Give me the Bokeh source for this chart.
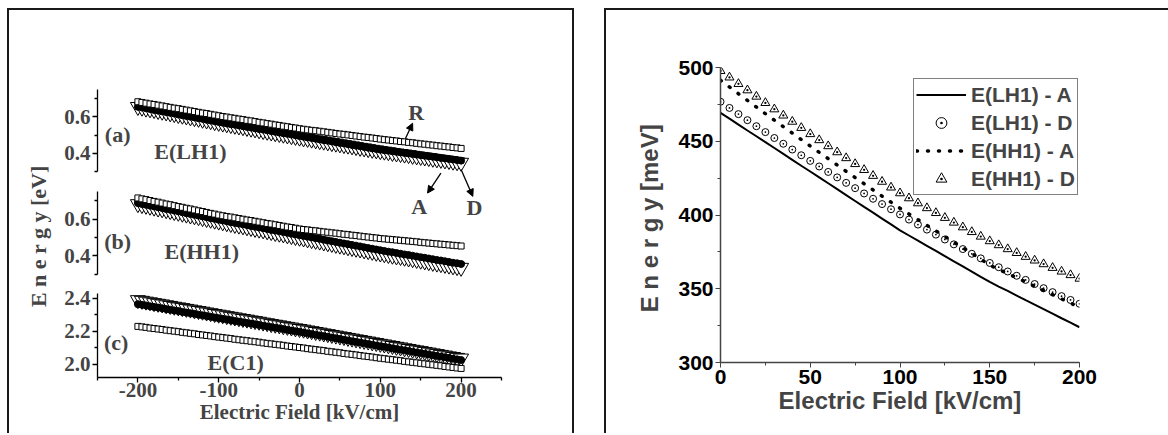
from bokeh.plotting import figure
from bokeh.models import (Range1d, LinearAxis, FixedTicker, PrintfTickFormatter, Label,
                          Arrow, NormalHead, Legend, LegendItem, SingleIntervalTicker,
                          CustomJSTickFormatter)
from bokeh.layouts import row, column
from bokeh.embed import file_html
from bokeh.resources import INLINE

# ---------------- data: left panel (eV) ----------------
FIELD = list(range(-200, 205, 5))   # kV/cm

LH1_R = [0.683, 0.679, 0.675, 0.671, 0.668, 0.664, 0.660, 0.656, 0.652, 0.648, 0.645, 0.641, 0.637, 0.633, 0.629, 0.625, 0.621, 0.618, 0.614, 0.610, 0.606,
         0.602, 0.599, 0.595, 0.592, 0.588, 0.585, 0.581, 0.578, 0.574, 0.570, 0.567, 0.563, 0.560, 0.556, 0.553, 0.549, 0.546, 0.542, 0.539, 0.535,
         0.532, 0.529, 0.526, 0.524, 0.521, 0.518, 0.515, 0.512, 0.509, 0.506, 0.504, 0.501, 0.498, 0.495, 0.492, 0.489, 0.487, 0.484, 0.481, 0.478,
         0.475, 0.473, 0.470, 0.468, 0.465, 0.463, 0.460, 0.458, 0.455, 0.452, 0.450, 0.447, 0.445, 0.442, 0.440, 0.437, 0.435, 0.432, 0.430, 0.427]
LH1_A = [0.655, 0.651, 0.647, 0.643, 0.638, 0.634, 0.630, 0.626, 0.622, 0.618, 0.613, 0.609, 0.605, 0.601, 0.597, 0.593, 0.589, 0.584, 0.580, 0.576, 0.572,
         0.568, 0.564, 0.560, 0.557, 0.553, 0.549, 0.545, 0.541, 0.537, 0.533, 0.530, 0.526, 0.522, 0.518, 0.514, 0.510, 0.507, 0.503, 0.499, 0.495,
         0.491, 0.487, 0.484, 0.480, 0.476, 0.472, 0.469, 0.465, 0.461, 0.457, 0.454, 0.450, 0.446, 0.442, 0.439, 0.435, 0.431, 0.427, 0.424, 0.420,
         0.417, 0.414, 0.411, 0.408, 0.405, 0.402, 0.399, 0.396, 0.393, 0.390, 0.387, 0.384, 0.381, 0.378, 0.375, 0.372, 0.369, 0.366, 0.363, 0.360]
LH1_D = [0.655, 0.651, 0.646, 0.642, 0.638, 0.633, 0.629, 0.625, 0.620, 0.616, 0.611, 0.607, 0.603, 0.598, 0.594, 0.590, 0.585, 0.581, 0.577, 0.572, 0.568,
         0.564, 0.560, 0.556, 0.552, 0.548, 0.544, 0.540, 0.536, 0.532, 0.527, 0.523, 0.519, 0.515, 0.511, 0.507, 0.503, 0.499, 0.495, 0.491, 0.487,
         0.483, 0.480, 0.476, 0.472, 0.468, 0.465, 0.461, 0.457, 0.454, 0.450, 0.446, 0.443, 0.439, 0.435, 0.431, 0.428, 0.424, 0.420, 0.417, 0.413,
         0.410, 0.407, 0.403, 0.400, 0.397, 0.394, 0.391, 0.387, 0.384, 0.381, 0.378, 0.375, 0.371, 0.368, 0.365, 0.362, 0.359, 0.355, 0.352, 0.349]

HH1_R = [0.716, 0.711, 0.707, 0.702, 0.697, 0.693, 0.688, 0.683, 0.679, 0.674, 0.669, 0.665, 0.660, 0.656, 0.651, 0.646, 0.642, 0.637, 0.632, 0.628, 0.623,
         0.619, 0.615, 0.612, 0.608, 0.604, 0.600, 0.596, 0.593, 0.589, 0.585, 0.581, 0.577, 0.574, 0.570, 0.566, 0.562, 0.558, 0.555, 0.551, 0.547,
         0.544, 0.542, 0.539, 0.537, 0.534, 0.531, 0.529, 0.526, 0.524, 0.521, 0.518, 0.516, 0.513, 0.511, 0.508, 0.505, 0.503, 0.500, 0.498, 0.495,
         0.493, 0.491, 0.489, 0.487, 0.485, 0.483, 0.481, 0.479, 0.477, 0.474, 0.472, 0.470, 0.468, 0.466, 0.464, 0.462, 0.460, 0.458, 0.456, 0.454]
HH1_A = [0.688, 0.683, 0.679, 0.674, 0.670, 0.665, 0.661, 0.656, 0.652, 0.647, 0.643, 0.638, 0.633, 0.629, 0.624, 0.620, 0.615, 0.611, 0.606, 0.602, 0.597,
         0.593, 0.589, 0.584, 0.580, 0.576, 0.572, 0.568, 0.563, 0.559, 0.555, 0.551, 0.547, 0.542, 0.538, 0.534, 0.530, 0.526, 0.521, 0.517, 0.513,
         0.509, 0.505, 0.501, 0.497, 0.493, 0.488, 0.484, 0.480, 0.476, 0.472, 0.468, 0.464, 0.460, 0.456, 0.452, 0.447, 0.443, 0.439, 0.435, 0.431,
         0.427, 0.423, 0.420, 0.416, 0.412, 0.408, 0.405, 0.401, 0.397, 0.393, 0.390, 0.386, 0.382, 0.378, 0.375, 0.371, 0.367, 0.363, 0.360, 0.356]
HH1_D = [0.683, 0.678, 0.674, 0.669, 0.664, 0.659, 0.655, 0.650, 0.645, 0.640, 0.636, 0.631, 0.626, 0.621, 0.617, 0.612, 0.607, 0.602, 0.598, 0.593, 0.588,
         0.584, 0.579, 0.575, 0.570, 0.566, 0.562, 0.557, 0.553, 0.548, 0.544, 0.540, 0.535, 0.531, 0.526, 0.522, 0.518, 0.513, 0.509, 0.504, 0.500,
         0.496, 0.491, 0.487, 0.483, 0.479, 0.474, 0.470, 0.466, 0.461, 0.457, 0.453, 0.448, 0.444, 0.440, 0.436, 0.431, 0.427, 0.423, 0.418, 0.414,
         0.410, 0.406, 0.402, 0.398, 0.395, 0.391, 0.387, 0.383, 0.379, 0.375, 0.371, 0.367, 0.363, 0.359, 0.356, 0.352, 0.348, 0.344, 0.340, 0.336]

C1_R = [2.230, 2.227, 2.224, 2.220, 2.217, 2.214, 2.211, 2.207, 2.204, 2.201, 2.198, 2.194, 2.191, 2.188, 2.185, 2.181, 2.178, 2.175, 2.172, 2.168, 2.165,
        2.162, 2.159, 2.156, 2.152, 2.149, 2.146, 2.143, 2.140, 2.137, 2.134, 2.130, 2.127, 2.124, 2.121, 2.118, 2.115, 2.111, 2.108, 2.105, 2.102,
        2.099, 2.095, 2.092, 2.089, 2.086, 2.083, 2.079, 2.076, 2.073, 2.070, 2.066, 2.063, 2.060, 2.057, 2.053, 2.050, 2.047, 2.044, 2.040, 2.037,
        2.034, 2.031, 2.028, 2.025, 2.022, 2.018, 2.015, 2.012, 2.009, 2.006, 2.003, 2.000, 1.997, 1.994, 1.991, 1.987, 1.984, 1.981, 1.978, 1.975]
C1_A = [2.365, 2.361, 2.357, 2.352, 2.348, 2.344, 2.340, 2.335, 2.331, 2.327, 2.323, 2.318, 2.314, 2.310, 2.306, 2.301, 2.297, 2.293, 2.289, 2.284, 2.280,
        2.276, 2.272, 2.268, 2.263, 2.259, 2.255, 2.251, 2.247, 2.243, 2.239, 2.234, 2.230, 2.226, 2.222, 2.218, 2.214, 2.209, 2.205, 2.201, 2.197,
        2.193, 2.188, 2.184, 2.180, 2.175, 2.171, 2.167, 2.162, 2.158, 2.154, 2.149, 2.145, 2.140, 2.136, 2.132, 2.127, 2.123, 2.119, 2.114, 2.110,
        2.106, 2.102, 2.097, 2.093, 2.089, 2.085, 2.081, 2.076, 2.072, 2.068, 2.064, 2.060, 2.055, 2.051, 2.047, 2.043, 2.039, 2.034, 2.030, 2.026]
C1_D = [2.390, 2.386, 2.381, 2.377, 2.372, 2.368, 2.364, 2.359, 2.355, 2.350, 2.346, 2.342, 2.337, 2.333, 2.328, 2.324, 2.320, 2.315, 2.311, 2.306, 2.302,
        2.298, 2.293, 2.289, 2.285, 2.280, 2.276, 2.272, 2.267, 2.263, 2.259, 2.254, 2.250, 2.245, 2.241, 2.237, 2.232, 2.228, 2.224, 2.219, 2.215,
        2.211, 2.206, 2.202, 2.197, 2.193, 2.188, 2.184, 2.179, 2.175, 2.170, 2.166, 2.161, 2.157, 2.152, 2.148, 2.143, 2.139, 2.134, 2.130, 2.125,
        2.121, 2.116, 2.112, 2.107, 2.103, 2.098, 2.094, 2.089, 2.085, 2.081, 2.076, 2.072, 2.067, 2.063, 2.058, 2.054, 2.049, 2.045, 2.040, 2.036]

# ---------------- data: right panel (meV) ----------------
FIELD_R = list(range(0, 205, 5))
LH1_A_MEV = [469.3, 465.3, 461.3, 457.3, 453.4, 449.4, 445.4, 441.4, 437.4, 433.4, 429.5, 425.5, 421.5, 417.5, 413.5, 409.5, 405.5, 401.6, 397.6, 393.6,
             389.6, 386.1, 382.6, 379.1, 375.6, 372.1, 368.6, 365.1, 361.6, 358.1, 354.6, 351.5, 348.5, 345.4, 342.3, 339.3, 336.2, 333.1, 330.0, 327.0, 323.9]
LH1_D_MEV = [476.8, 472.6, 468.4, 464.3, 460.2, 456.2, 452.2, 448.3, 444.4, 440.5, 436.7, 432.9, 429.2, 425.5, 421.8, 418.2, 414.6, 411.0, 407.4, 403.9,
             400.4, 396.9, 393.5, 390.1, 386.7, 383.4, 380.1, 376.9, 373.7, 370.6, 367.5, 364.6, 361.7, 358.8, 356.0, 353.2, 350.4, 347.7, 345.0, 342.4, 339.8]
HH1_A_MEV = [491.4, 486.8, 482.2, 477.7, 473.2, 468.7, 464.3, 459.9, 455.5, 451.1, 446.8, 442.5, 438.2, 433.9, 429.6, 425.4, 421.2, 417.0, 412.8, 408.7,
             404.6, 400.7, 396.8, 393.0, 389.2, 385.4, 381.6, 377.8, 374.1, 370.0, 366.0, 363.1, 360.3, 357.4, 354.6, 351.7, 348.8, 346.0, 343.1, 340.3, 337.4]
HH1_D_MEV = [497.7, 493.3, 488.9, 484.6, 480.3, 476.0, 471.7, 467.5, 463.3, 459.1, 454.9, 450.8, 446.7, 442.6, 438.6, 434.6, 430.6, 426.6, 422.6, 418.7,
             414.8, 411.4, 408.0, 404.7, 401.4, 398.1, 394.9, 391.7, 388.5, 385.4, 382.3, 379.6, 376.9, 374.3, 371.7, 369.2, 366.7, 364.2, 361.7, 359.3, 356.9]
LEGEND_LABELS = ["E(LH1) - A", "E(LH1) - D", "E(HH1) - A", "E(HH1) - D"]

SERIF = "Liberation Serif"
SANS = "Liberation Sans"
BORDER = "2px solid #1a1a1a"
BW = 2   # border width taken from the figure box

# ================= left panel =================
LW, LH = 567, 425
L_TOP, L_FRAME_H = 79, 286
left = figure(width=LW, height=LH, x_range=Range1d(-250, 250), y_range=Range1d(0, L_FRAME_H),
              y_axis_location=None, output_backend="svg", toolbar_location=None,
              min_border_left=88, min_border_right=LW - 2 * BW - 88 - 400, min_border_top=L_TOP,
              min_border_bottom=LH - BW - L_TOP - L_FRAME_H)
left.outline_line_color = None
left.grid.visible = False
left.styles = {"border-top": BORDER, "border-left": BORDER, "border-right": BORDER}

# sub-plot layout: (name, top px, bottom px within frame, value lo, value hi, major ticks, minor ticks)
SUBPLOTS = [
    ("a", 0.0, 81.5, 0.30, 0.75, [0.4, 0.6], [0.3, 0.5, 0.7]),
    ("b", 101.5, 183.5, 0.30, 0.75, [0.4, 0.6], [0.3, 0.5, 0.7]),
    ("c", 202.5, 286.0, 1.92, 2.43, [2.0, 2.2, 2.4], [2.1, 2.3]),
]
ranges = {}
major_pos, major_txt, minor_pos = [], [], []
for name, top, bot, lo, hi, major, minor in SUBPLOTS:
    k = (bot - top) / (hi - lo)
    ranges[name] = Range1d(lo - (L_FRAME_H - bot) / k, hi + top / k)
    base = L_FRAME_H - bot
    for v in major:
        major_pos.append(round(base + (v - lo) * k, 3))
        major_txt.append("%.1f" % v)
    for v in minor:
        minor_pos.append(round(base + (v - lo) * k, 3))
left.extra_y_ranges = ranges

# axis-line segments, one per sub-plot (no ticks -> no width)
for name, top, bot, lo, hi, major, minor in SUBPLOTS:
    seg = LinearAxis(y_range_name=name, bounds=(lo, hi), ticker=FixedTicker(ticks=[]))
    seg.axis_line_width = 1.3
    seg.major_tick_out = 0
    seg.major_tick_in = 0
    seg.minor_tick_out = 0
    seg.minor_tick_in = 0
    seg.major_label_standoff = 0
    left.add_layout(seg, "left")

# one axis carrying all ticks + labels + the title
main_ax = LinearAxis(ticker=FixedTicker(ticks=major_pos, minor_ticks=minor_pos),
                     formatter=CustomJSTickFormatter(args=dict(pos=major_pos, txt=major_txt), code="""
                         for (let i = 0; i < pos.length; i++) {
                             if (Math.abs(pos[i] - tick) < 0.01) { return txt[i]; }
                         }
                         return '';
                     """),
                     axis_label="E n e r g y  [eV]")
main_ax.axis_line_color = None
main_ax.major_tick_out = 5
main_ax.major_tick_in = 0
main_ax.minor_tick_out = 3
main_ax.minor_tick_in = 0
main_ax.major_tick_line_width = 1.3
main_ax.minor_tick_line_width = 1.3
main_ax.major_label_standoff = 2
main_ax.major_label_text_font = SERIF
main_ax.major_label_text_font_style = "bold"
main_ax.major_label_text_font_size = "21px"
main_ax.axis_label_standoff = 10
main_ax.axis_label_text_font = SERIF
main_ax.axis_label_text_font_style = "bold"
main_ax.axis_label_text_font_size = "22px"
left.add_layout(main_ax, "left")

xa = left.xaxis[0]
xa.ticker = FixedTicker(ticks=[-200, -100, 0, 100, 200], minor_ticks=[-250, -150, -50, 50, 150, 250])
xa.formatter = PrintfTickFormatter(format="%d")
xa.axis_label = "Electric Field [kV/cm]"
xa.axis_line_width = 1.3
xa.major_tick_line_width = 1.3
xa.minor_tick_line_width = 1.3
xa.major_tick_out = 5
xa.major_tick_in = 0
xa.minor_tick_out = 3
xa.minor_tick_in = 0
xa.major_label_standoff = 0
xa.axis_label_standoff = 0
xa.major_label_text_font = SERIF
xa.major_label_text_font_style = "bold"
xa.major_label_text_font_size = "21px"
xa.axis_label_text_font = SERIF
xa.axis_label_text_font_style = "bold"
xa.axis_label_text_font_size = "21px"

for name, R, A, D in [("a", LH1_R, LH1_A, LH1_D), ("b", HH1_R, HH1_A, HH1_D), ("c", C1_R, C1_A, C1_D)]:
    left.scatter(FIELD, D, marker="inverted_triangle", size=15, fill_color="white",
                 line_color="black", line_width=1, y_range_name=name)
    left.scatter(FIELD, A, marker="circle", size=7, fill_color="black",
                 line_color="black", line_width=1, y_range_name=name)
    left.scatter(FIELD, R, marker="square", size=6, fill_color="white",
                 line_color="black", line_width=1, y_range_name=name)

NOTES = [  # (text, x, y, range)
    ("(a)", -225, 0.504, "a"), ("E(LH1)", -135, 0.412, "a"), ("R", 144.5, 0.624, "a"),
    ("A", 148, 0.109, "a"), ("D", 216.5, 0.103, "a"),
    ("(b)", -225, 0.478, "b"), ("E(HH1)", -121, 0.423, "b"),
    ("(c)", -227, 2.134, "c"), ("E(C1)", -79, 2.012, "c"),
]
for s, x, y, rng in NOTES:
    left.add_layout(Label(x=x, y=y, text=s, y_range_name=rng, text_font=SERIF,
                          text_font_style="bold", text_font_size="22px",
                          text_align="center", text_baseline="middle"))

ARROWS = [  # x_start, y_start, x_end, y_end (head at end)
    (131, 0.480, 140, 0.565),
    (175, 0.292, 158.5, 0.182),
    (200, 0.311, 214.5, 0.164),
]
for xs, ys, xe, ye in ARROWS:
    left.add_layout(Arrow(x_start=xs, y_start=ys, x_end=xe, y_end=ye, y_range_name="a",
                          line_width=1.3, line_color="black",
                          end=NormalHead(size=7, fill_color="black", line_color="black")))

# ================= right panel =================
RW, RH = 564, 425
R_TOP, R_FRAME_H = 57, 293
right = figure(width=RW, height=RH, x_range=Range1d(0, 200), y_range=Range1d(300, 500),
               output_backend="svg", toolbar_location=None,
               min_border_left=114, min_border_right=RW - BW - 114 - 357, min_border_top=R_TOP,
               min_border_bottom=RH - BW - R_TOP - R_FRAME_H)
right.outline_line_color = None
right.grid.visible = False
right.styles = {"border-top": BORDER, "border-left": BORDER}

r1 = right.line(FIELD_R, LH1_A_MEV, line_color="black", line_width=2)
r2 = right.scatter(FIELD_R, LH1_D_MEV, marker="circle_dot", size=7, fill_color="white",
                   line_color="black", line_width=1)
r3 = right.line(FIELD_R, HH1_A_MEV, line_color="black", line_width=3.5,
                line_dash="1 10", line_cap="round")
r4 = right.scatter(FIELD_R, HH1_D_MEV, marker="triangle_dot", size=9, fill_color="white",
                   line_color="black", line_width=1)

for ax in [right.xaxis[0], right.yaxis[0]]:
    ax.ticker = SingleIntervalTicker(interval=50, num_minor_ticks=2)
    ax.axis_line_width = 1.5
    ax.axis_line_color = "#444444"
    ax.major_tick_line_color = "#444444"
    ax.minor_tick_line_color = "#444444"
    ax.major_tick_out = 5
    ax.major_tick_in = 0
    ax.minor_tick_out = 3
    ax.minor_tick_in = 0
    ax.major_label_standoff = 2
    ax.major_label_text_font = SANS
    ax.major_label_text_font_style = "bold"
    ax.major_label_text_font_size = "21px"
    ax.major_label_text_color = "black"
    ax.axis_label_text_font = SANS
    ax.axis_label_text_font_style = "bold"
    ax.axis_label_text_font_size = "24px"

right.xaxis[0].axis_label = "Electric Field [kV/cm]"
right.xaxis[0].axis_label_standoff = 0
right.yaxis[0].axis_label = "E n e r g y  [meV]"
right.yaxis[0].axis_label_standoff = 12

legend = Legend(items=[LegendItem(label=LEGEND_LABELS[0], renderers=[r1]),
                       LegendItem(label=LEGEND_LABELS[1], renderers=[r2]),
                       LegendItem(label=LEGEND_LABELS[2], renderers=[r3]),
                       LegendItem(label=LEGEND_LABELS[3], renderers=[r4])],
                location=(193, 167))
legend.margin = 0
legend.padding = 2
legend.spacing = 1
legend.glyph_width = 50
legend.glyph_height = 27
legend.label_height = 27
legend.label_standoff = 5
legend.label_text_font = SANS
legend.label_text_font_style = "bold"
legend.label_text_font_size = "21px"
legend.border_line_color = "black"
legend.border_line_width = 1
legend.background_fill_alpha = 1
right.add_layout(legend)

layout = row(column(left), column(right), spacing=30, margin=(8, 0, 0, 7))
open("out.html", "w").write(file_html(layout, INLINE))
